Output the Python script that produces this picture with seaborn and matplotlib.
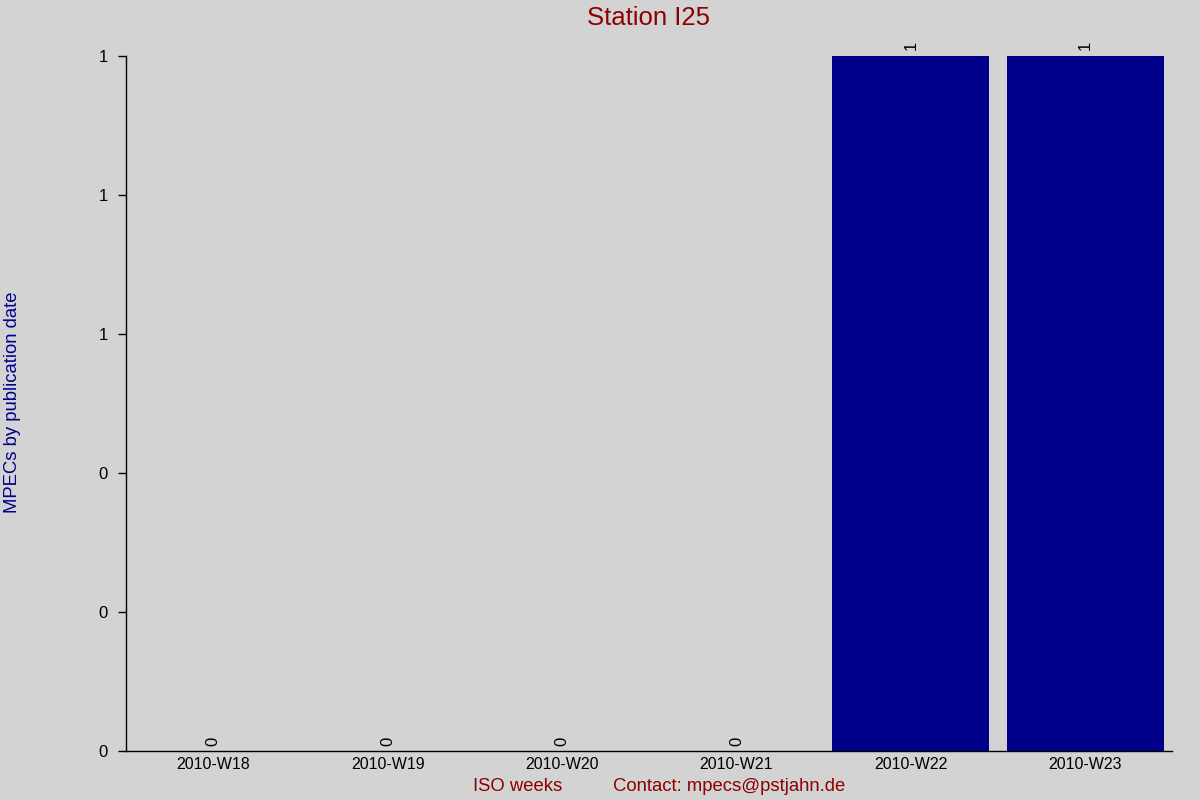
import matplotlib
matplotlib.use("Agg")
import matplotlib.pyplot as plt
import seaborn as sns
import pandas as pd
from matplotlib.ticker import FormatStrFormatter, MultipleLocator

weeks = ["2010-W18", "2010-W19", "2010-W20", "2010-W21", "2010-W22", "2010-W23"]
counts = [0, 0, 0, 0, 1, 1]

df = pd.DataFrame({"week": weeks, "count": counts})

sns.set_theme(style="white")
plt.rcParams["font.family"] = ["Liberation Sans", "DejaVu Sans"]

bg = "#d3d3d3"
fig = plt.figure(figsize=(12, 8), dpi=100, facecolor=bg)
ax = fig.add_axes([0.105, 0.061, 0.872, 0.869])
ax.set_facecolor(bg)

sns.barplot(data=df, x="week", y="count", color="#00008b", saturation=1,
            width=0.9, ax=ax, linewidth=0, edgecolor="none")

ax.set_xlim(-0.5, len(weeks) - 0.5)
ax.set_ylim(0, 1)
ax.yaxis.set_major_locator(MultipleLocator(0.2))
ax.yaxis.set_major_formatter(FormatStrFormatter("%.0f"))

for i, v in enumerate(counts):
    ax.annotate(str(v), (i, v), xytext=(0, 4), textcoords="offset points",
                rotation=90, ha="center", va="bottom", fontsize=12, color="black",
                annotation_clip=False)

for s in ["top", "right"]:
    ax.spines[s].set_visible(False)
for s in ["left", "bottom"]:
    ax.spines[s].set_color("black")
    ax.spines[s].set_linewidth(1)

ax.tick_params(axis="y", left=True, length=6, width=1, color="black",
               labelsize=12, labelcolor="black", pad=7)
ax.tick_params(axis="x", bottom=False, length=0, labelsize=11.5,
               labelcolor="black", pad=4)

ax.set_xlabel("")
ax.set_ylabel("")
fig.text(0.003, 0.497, "MPECs by publication date", rotation=90, color="#00008b",
         fontsize=13.3, ha="left", va="center")
fig.text(0.5408, 0.977, "Station I25", color="#8b0000", fontsize=18.5,
         ha="center", va="center")
fig.text(0.394, 0.017, "ISO weeks", color="#8b0000", fontsize=13.3,
         ha="left", va="center")
fig.text(0.511, 0.017, "Contact: mpecs@pstjahn.de", color="#8b0000", fontsize=13.3,
         ha="left", va="center")

fig.savefig("out.png", dpi=100, facecolor=bg)
